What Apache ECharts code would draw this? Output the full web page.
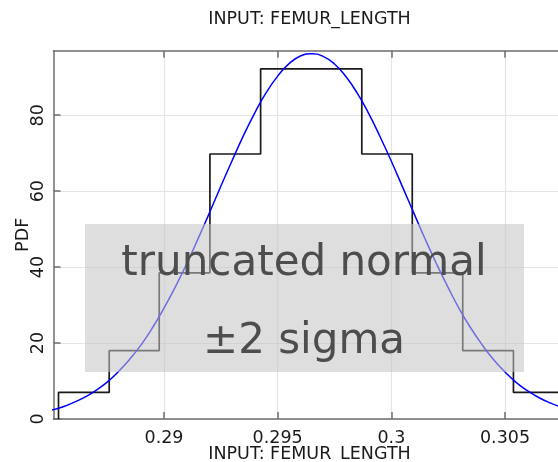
<!DOCTYPE html>
<html>
<head>
<meta charset="utf-8">
<script src="https://cdn.jsdelivr.net/npm/echarts@6/dist/echarts.min.js"></script>
<style>html,body{margin:0;padding:0;background:#fff}#c{width:558px;height:462px}</style>
</head>
<body>
<div id="c"></div>
<script>
// ---- data ----
const titleText = 'INPUT: FEMUR_LENGTH';
const xName = 'INPUT: FEMUR_LENGTH';
const yName = 'PDF';
const xTicks = [0.29, 0.295, 0.3, 0.305];
const xTickLabels = ['0.29', '0.295', '0.3', '0.305'];
const yTicks = [0, 20, 40, 60, 80];
const yTickLabels = ['0', '20', '40', '60', '80'];
const binEdges = [0.28536, 0.28759, 0.28979, 0.29202, 0.29425, 0.29647, 0.29870, 0.30092, 0.30314, 0.30537, 0.30759];
const binHeights = [7.0, 18.0, 38.5, 69.8, 92.2, 92.2, 69.8, 38.5, 18.0, 7.0];
const curveX = [0.2850,0.2855,0.2860,0.2865,0.2870,0.2875,0.2880,0.2885,0.2890,0.2895,
                0.2900,0.2905,0.2910,0.2915,0.2920,0.2925,0.2930,0.2935,0.2940,0.2945,
                0.2950,0.2955,0.2960,0.2965,0.2970,0.2975,0.2980,0.2985,0.2990,0.2995,
                0.3000,0.3005,0.3010,0.3015,0.3020,0.3025,0.3030,0.3035,0.3040,0.3045,
                0.3050,0.3055,0.3060,0.3065,0.3070,0.3075,0.3080];
const curveY = [2.3,3.1,4.3,5.7,7.5,9.7,12.5,15.8,19.6,24.1,
                29.2,34.8,40.9,47.5,54.3,61.3,68.1,74.7,80.7,86.0,
                90.3,93.6,95.6,96.2,95.5,93.5,90.2,85.8,80.5,74.4,
                67.9,61.0,54.1,47.2,40.7,34.6,28.9,23.9,19.5,15.6,
                12.4,9.6,7.4,5.6,4.2,3.1,2.3];
const annotationLines = ['truncated normal', '\u00b12 sigma'];

// ---- build series data ----
const histData = [[binEdges[0], 0]];
for (let i = 0; i < binHeights.length; i++) histData.push([binEdges[i], binHeights[i]]);
histData.push([binEdges[binEdges.length - 1], binHeights[binHeights.length - 1]]);
histData.push([binEdges[binEdges.length - 1], 0]);
const curveData = curveX.map((x, i) => [x, curveY[i]]);

const FONT = 'DejaVu Sans';
const axisGray = '#6e6e6e';
const chart = echarts.init(document.getElementById('c'), null, {renderer: 'canvas'});
const xCommon = {
  type: 'value', min: 0.28514, max: 0.30766,
  axisLine: {show: true, lineStyle: {color: axisGray, width: 1.5}},
  axisTick: {show: true, inside: true, length: 7, customValues: xTicks, lineStyle: {color: axisGray, width: 1.5}},
  splitLine: {show: false}
};
chart.setOption({
  animation: false,
  grid: {left: 53.5, top: 50.7, width: 512, bottom: 43, containLabel: false, outerBoundsMode: 'none'},
  xAxis: [
    Object.assign({}, xCommon, {
      position: 'bottom', offset: 1,
      name: xName, nameLocation: 'middle', nameGap: 25, nameMoveOverlap: false,
      nameTextStyle: {fontFamily: FONT, fontSize: 17.5, color: '#1a1a1a'},
      axisLabel: {show: true, customValues: xTicks, margin: 9, fontFamily: FONT, fontSize: 17.5, color: '#1a1a1a',
        formatter: v => xTickLabels[xTicks.indexOf(v)] ?? ''},
      splitLine: {show: true, lineStyle: {color: '#e4e4e4', width: 1.2}}
    }),
    Object.assign({}, xCommon, {position: 'top', axisLabel: {show: false}})
  ],
  yAxis: {
    type: 'value', min: 0, max: 97,
    name: yName, nameLocation: 'middle', nameGap: 21, nameRotate: 90, nameMoveOverlap: false,
    nameTextStyle: {fontFamily: FONT, fontSize: 17.5, color: '#1a1a1a'},
    axisLine: {show: true, lineStyle: {color: axisGray, width: 1.5}},
    axisTick: {show: true, inside: true, length: 7, customValues: yTicks, lineStyle: {color: axisGray, width: 1.5}},
    axisLabel: {show: true, customValues: yTicks, rotate: 90, margin: 6, fontFamily: FONT, fontSize: 17.5, color: '#1a1a1a',
      formatter: v => yTickLabels[yTicks.indexOf(v)] ?? ''},
    splitLine: {show: true, lineStyle: {color: '#e4e4e4', width: 1.2}}
  },
  series: [
    {type: 'line', data: histData, step: 'end', symbol: 'none', clip: true,
     lineStyle: {color: '#1a1a1a', width: 1.7}, z: 2},
    {type: 'line', data: curveData, smooth: true, symbol: 'none', clip: true,
     lineStyle: {color: '#0000ff', width: 1.5}, z: 3}
  ],
  graphic: [
    {type: 'text', x: 309.5, y: 19, z: 10,
     style: {text: titleText, font: '17.5px "' + FONT + '"', fill: '#1a1a1a', textAlign: 'center', textVerticalAlign: 'middle'}},
    {type: 'rect', x: 85, y: 224, z: 50, shape: {x: 0, y: 0, width: 439, height: 148},
     style: {fill: 'rgba(196,196,196,0.56)'}},
    {type: 'text', x: 304, y: 264, z: 60,
     style: {text: annotationLines[0], font: '42px "' + FONT + '"', fill: '#4d4d4d', textAlign: 'center', textVerticalAlign: 'middle'}},
    {type: 'text', x: 304, y: 342, z: 60,
     style: {text: annotationLines[1], font: '42px "' + FONT + '"', fill: '#4d4d4d', textAlign: 'center', textVerticalAlign: 'middle'}}
  ]
});
</script>
</body>
</html>
